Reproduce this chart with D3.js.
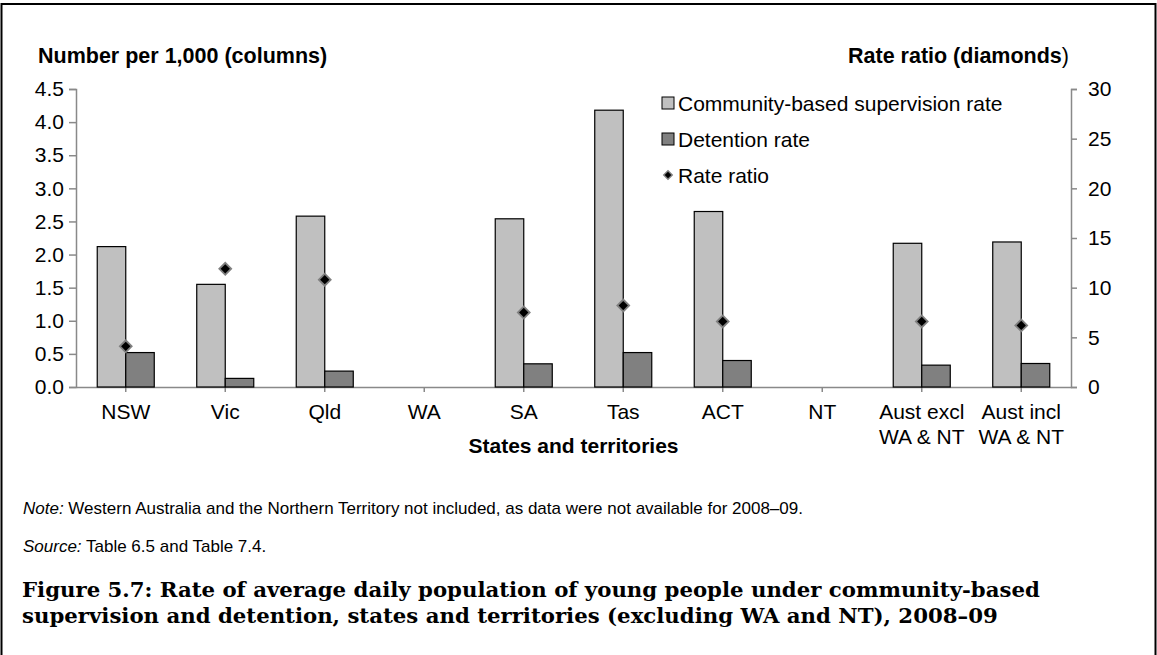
<!DOCTYPE html>
<html><head><meta charset="utf-8">
<script src="https://cdn.jsdelivr.net/npm/d3@7"></script>
<style>body{margin:0;background:#fff}svg{display:block}</style>
</head><body><svg id="c" width="1157" height="655"></svg>
<script>
const categories = ["NSW","Vic","Qld","WA","SA","Tas","ACT","NT","Aust excl\nWA & NT","Aust incl\nWA & NT"];
const communityRate = [2.12, 1.55, 2.58, null, 2.54, 4.18, 2.65, null, 2.17, 2.19];
const detentionRate = [0.52, 0.13, 0.24, null, 0.35, 0.52, 0.40, null, 0.33, 0.355];
const rateRatio = [4.1, 11.9, 10.8, null, 7.5, 8.2, 6.6, null, 6.6, 6.2];
const leftTicks = [0,0.5,1,1.5,2,2.5,3,3.5,4,4.5];
const rightTicks = [0,5,10,15,20,25,30];
const seriesNames = ["Community-based supervision rate","Detention rate","Rate ratio"];

const SANS = '"Liberation Sans", Arial, sans-serif';
const svg = d3.select("#c").style("font-family", SANS);
svg.append("rect").attr("width",1157).attr("height",655).attr("fill","#fff");
svg.append("rect").attr("x",1.5).attr("y",4).attr("width",1154).attr("height",700)
  .attr("fill","none").attr("stroke","#000").attr("stroke-width",2);

const L=76,R=1071,T=89,B=387;
const x = d3.scaleBand().domain(categories).range([L,R]).paddingInner(0.427).paddingOuter(0.2135);
const xs = d3.scaleBand().domain(["c","d"]).range([0,x.bandwidth()]);
const yL = d3.scaleLinear().domain([0,4.5]).range([B,T]);
const yR = d3.scaleLinear().domain([0,30]).range([B,T]);
const axisCol="#898989";

// axes
const gl = svg.append("g").attr("transform",`translate(${L},0)`)
  .call(d3.axisLeft(yL).tickValues(leftTicks).tickFormat(d3.format(".1f")).tickSize(7).tickPadding(5));
const gr = svg.append("g").attr("transform",`translate(${R},0)`)
  .call(d3.axisRight(yR).tickValues(rightTicks).tickSize(6).tickPadding(11));
[gl,gr].forEach(g=>{
  g.attr("font-family",null).attr("font-size",null);
  g.select(".domain").attr("stroke",axisCol).attr("stroke-width",1.5);
  g.selectAll(".tick line").attr("stroke",axisCol).attr("stroke-width",1.5);
  g.selectAll(".tick text").style("font-size","21px").attr("fill","#000");
});
const gx = svg.append("g").attr("transform",`translate(0,${B})`)
  .call(d3.axisBottom(x).tickSize(5).tickSizeOuter(0).tickFormat(""));
gx.attr("font-family",null).attr("font-size",null);
gx.select(".domain").attr("stroke",axisCol).attr("stroke-width",1.5);
gx.selectAll(".tick line").attr("stroke",axisCol).attr("stroke-width",1.5);
gx.selectAll(".tick").each(function(d){
  const t = d3.select(this).append("text").attr("fill","#000").style("font-size","21px")
    .attr("text-anchor","middle");
  d.split("\n").forEach((s,i)=>t.append("tspan").attr("x",0).attr("y",32+i*24.5).text(s));
});

// bars
const data = categories.map((c,i)=>({c,comm:communityRate[i],det:detentionRate[i],ratio:rateRatio[i]}));
const gb = svg.append("g");
gb.selectAll("rect.comm").data(data.filter(d=>d.comm!=null)).join("rect").attr("class","comm")
  .attr("x",d=>x(d.c)+xs("c")).attr("width",xs.bandwidth())
  .attr("y",d=>yL(d.comm)).attr("height",d=>B-yL(d.comm))
  .attr("fill","#c0c0c0").attr("stroke","#000").attr("stroke-width",1.2);
gb.selectAll("rect.det").data(data.filter(d=>d.det!=null)).join("rect").attr("class","det")
  .attr("x",d=>x(d.c)+xs("d")).attr("width",xs.bandwidth())
  .attr("y",d=>yL(d.det)).attr("height",d=>B-yL(d.det))
  .attr("fill","#808080").attr("stroke","#000").attr("stroke-width",1.2);
// diamonds
const diamond = d3.symbol().type(d3.symbolSquare).size(70);
svg.append("g").selectAll("path").data(data.filter(d=>d.ratio!=null)).join("path")
  .attr("d",diamond)
  .attr("transform",d=>`translate(${x(d.c)+x.bandwidth()/2},${yR(d.ratio)}) rotate(45)`)
  .attr("fill","#000").attr("stroke","#808080").attr("stroke-width",1.8);

// axis titles
svg.append("text").attr("x",38).attr("y",63).style("font-size","21.5px").attr("font-weight","bold").text("Number per 1,000 (columns)");
const rt = svg.append("text").attr("x",1069).attr("y",63).style("font-size","21.5px").attr("text-anchor","end");
rt.append("tspan").attr("font-weight","bold").text("Rate ratio (diamonds");
rt.append("tspan").text(")");
svg.append("text").attr("x",(L+R)/2).attr("y",453).style("font-size","21px").attr("font-weight","bold")
  .attr("text-anchor","middle").text("States and territories");

// legend
const lg = svg.append("g").attr("transform","translate(662,0)");
const rows=[103,139,175];
lg.append("rect").attr("x",0).attr("y",rows[0]-6).attr("width",12).attr("height",12).attr("fill","#c0c0c0").attr("stroke","#000").attr("stroke-width",1);
lg.append("rect").attr("x",0).attr("y",rows[1]-6).attr("width",12).attr("height",12).attr("fill","#808080").attr("stroke","#000").attr("stroke-width",1);
lg.append("path").attr("d",d3.symbol().type(d3.symbolSquare).size(36)).attr("transform",`translate(6,${rows[2]}) rotate(45)`)
  .attr("fill","#000").attr("stroke","#808080").attr("stroke-width",1.4);
seriesNames.forEach((s,i)=>lg.append("text").attr("x",16).attr("y",rows[i]+7.5).style("font-size","21px").text(s));

// notes
const n1 = svg.append("text").attr("x",23).attr("y",514).style("font-size","17px");
n1.append("tspan").attr("font-style","italic").text("Note:");
n1.append("tspan").text(" Western Australia and the Northern Territory not included, as data were not available for 2008–09.");
const n2 = svg.append("text").attr("x",23).attr("y",552).style("font-size","17px");
n2.append("tspan").attr("font-style","italic").text("Source:");
n2.append("tspan").text(" Table 6.5 and Table 7.4.");
const cap = ["Figure 5.7: Rate of average daily population of young people under community-based",
             "supervision and detention, states and territories (excluding WA and NT), 2008–09"];
const capT = cap.map((s,i)=>svg.append("text").attr("x",22).attr("y",597+i*26)
  .style("font-size","20px").style("font-family",'"DejaVu Serif", serif')
  .attr("font-weight","bold").attr("fill","#000").text(s));
// fit caption to the reference line width
const w0 = capT[0].node().getComputedTextLength();
const fs = Math.min(23, 20*1018/w0);
capT.forEach(t=>t.style("font-size",fs+"px"));
</script></body></html>
